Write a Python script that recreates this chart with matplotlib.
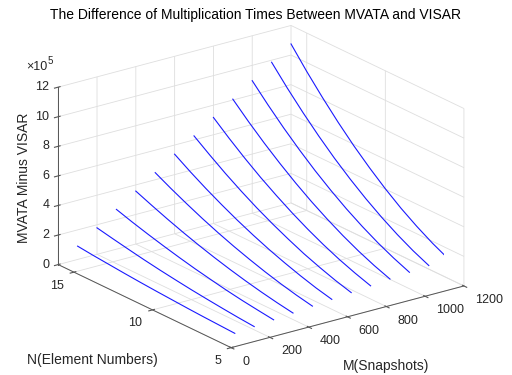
import numpy as np
import matplotlib
matplotlib.use('Agg')
import matplotlib.pyplot as plt
from mpl_toolkits.mplot3d import proj3d

plt.rcParams['font.family'] = ['Liberation Sans', 'DejaVu Sans']
plt.rcParams['grid.color'] = '#dedede'
plt.rcParams['grid.linewidth'] = 0.6

# Snapshots M (one line per value)
M_values = [100, 200, 300, 400, 500, 600, 700, 800, 900, 1000, 1100, 1200]
# Element numbers N along each line
N_values = [6, 7, 8, 9, 10, 11, 12, 13, 14, 15, 16]
# MVATA minus VISAR, in units of 1e5 (rows: M, columns: N)
Z_rows = [
    [0.11, 0.16, 0.21, 0.27, 0.34, 0.41, 0.49, 0.58, 0.68, 0.78, 0.90],
    [0.22, 0.31, 0.42, 0.54, 0.67, 0.82, 0.98, 1.16, 1.36, 1.57, 1.79],
    [0.33, 0.47, 0.62, 0.80, 1.01, 1.23, 1.48, 1.75, 2.04, 2.35, 2.69],
    [0.44, 0.62, 0.83, 1.07, 1.34, 1.64, 1.97, 2.33, 2.72, 3.14, 3.58],
    [0.56, 0.78, 1.04, 1.34, 1.68, 2.05, 2.46, 2.91, 3.40, 3.92, 4.48],
    [0.67, 0.93, 1.25, 1.61, 2.01, 2.46, 2.95, 3.49, 4.07, 4.70, 5.38],
    [0.78, 1.09, 1.46, 1.87, 2.35, 2.87, 3.44, 4.07, 4.75, 5.49, 6.27],
    [0.89, 1.25, 1.66, 2.14, 2.68, 3.28, 3.94, 4.65, 5.43, 6.27, 7.17],
    [1.00, 1.40, 1.87, 2.41, 3.02, 3.69, 4.43, 5.24, 6.11, 7.05, 8.06],
    [1.11, 1.56, 2.08, 2.68, 3.35, 4.10, 4.92, 5.82, 6.79, 7.84, 8.96],
    [1.22, 1.71, 2.29, 2.95, 3.69, 4.51, 5.41, 6.40, 7.47, 8.62, 9.86],
    [1.33, 1.87, 2.50, 3.21, 4.02, 4.92, 5.90, 6.98, 8.15, 9.40, 10.75],
]
x_ticks = [0, 200, 400, 600, 800, 1000, 1200]
y_ticks = [5, 10, 15]
z_ticks = [0, 2, 4, 6, 8, 10, 12]
x_lim = (0, 1200)
y_lim = (5, 16)
z_lim = (0, 12)

TXT = '#262626'

fig = plt.figure(figsize=(5.12, 3.75), dpi=100)
ax = fig.add_axes([0.0, -0.011, 1.0, 1.0], projection='3d', proj_type='ortho')
ax.view_init(elev=20.9, azim=-126.6)
ax.set_box_aspect((1, 1, 0.655), zoom=1.17)

for m, row in zip(M_values, Z_rows):
    ax.plot([m] * len(N_values), N_values, row, color='#1a1aff', lw=0.8)

ax.set_xlim(*x_lim)
ax.set_ylim(*y_lim)
ax.set_zlim(*z_lim)
ax.set_xticks(x_ticks)
ax.set_yticks(y_ticks)
ax.set_zticks(z_ticks)
ax.set_xticklabels([])
ax.set_yticklabels([])
ax.set_zticklabels([])

for axis in (ax.xaxis, ax.yaxis, ax.zaxis):
    axis.set_pane_color((1, 1, 1, 0))
    axis.pane.set_edgecolor('#dedede')
    axis.line.set_color('#555555')
    axis.line.set_linewidth(0.7)
ax.tick_params(colors='#555555')

# tick labels placed at the projected tick positions (MATLAB-like alignment)
P = ax.get_proj()


def put(x, y, z, s, dx, dy, ha):
    px, py, _ = proj3d.proj_transform(x, y, z, P)
    ax.annotate(s, xy=(px, py), xycoords='data', xytext=(dx, dy),
                textcoords='offset pixels', ha=ha, va='center',
                fontsize=9, color=TXT, annotation_clip=False)


for v in x_ticks:
    put(v, y_lim[0], z_lim[0], str(v), 11, -14, 'left')
for v in y_ticks:
    put(x_lim[0], v, z_lim[0], str(v), -10, -13.5, 'right')
for v in z_ticks:
    put(x_lim[0], y_lim[1], v, str(v), -9, 0, 'right')

fig.text(0.5, 1 - 15 / 375, 'The Difference of Multiplication Times Between MVATA and VISAR',
         ha='center', va='center', fontsize=10, color='#000000')
fig.text(24 / 512, 1 - 178 / 375, 'MVATA Minus VISAR', rotation=90,
         ha='center', va='center', fontsize=10, color=TXT)
fig.text(92 / 512, 1 - 360 / 375, 'N(Element Numbers)',
         ha='center', va='center', fontsize=10, color=TXT)
fig.text(386 / 512, 1 - 366 / 375, 'M(Snapshots)',
         ha='center', va='center', fontsize=10, color=TXT)
fig.text(47 / 512, 1 - 67 / 375, '\u00d710', ha='right', va='center',
         fontsize=9, color=TXT)
fig.text(47.5 / 512, 1 - 61 / 375, '5', ha='left', va='center',
         fontsize=7, color=TXT)
fig.savefig('out.png', dpi=100)
